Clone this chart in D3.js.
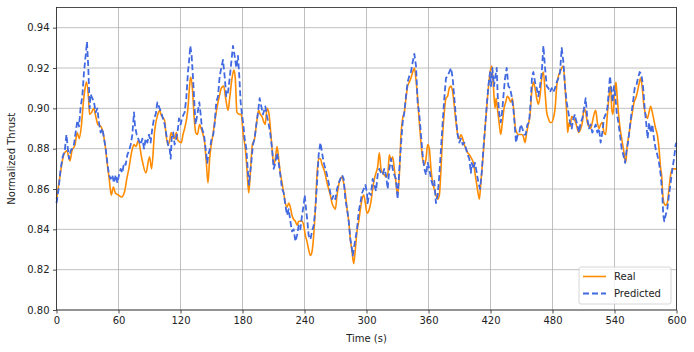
<!DOCTYPE html>
<html>
<head>
<meta charset="utf-8">
<script src="https://cdn.jsdelivr.net/npm/d3@7"></script>
<style>
  html, body { margin: 0; padding: 0; background: #fff; }
  svg { display: block; font-family: "DejaVu Sans", sans-serif; }
</style>
</head>
<body>
<svg id="chart" width="694" height="352"></svg>
<script>
// ---- data ----
const xTicks = [0, 60, 120, 180, 240, 300, 360, 420, 480, 540, 600];
const yTicks = [0.80, 0.82, 0.84, 0.86, 0.88, 0.90, 0.92, 0.94];
const seriesNames = ["Real", "Predicted"];

const realTime = [0,3,5,7,10,13,15,18,20,22,24,26,28,29,31,32,34,36,38,40,43,45,47,49,51,53,55,57,60,63,66,68,70,73,75,77,79,83,86.5,90,92,95,98,100,
 101,104.6,106,108,109.5,111,112.7,114.3,116,117.6,120.8,122.4,124,127.2,128.8,129.8,131.5,133,134.7,136.3,138.5,140,141.8,143.4,145,146.6,148.2,149.8,151.4,153,154.6,156.3,158,159.5,161.8,163.7,166,167.6,169.8,171.7,173,174.6,177.2,178.8,180.5,182.7,184.3,186,187.6,189.5,191.7,193.7,195.6,197.2,198.8,
 200.8,202,203.7,205.4,207,208.6,210.2,211.8,213.4,215,216.6,218.3,219.9,221.5,223.1,224.7,226.3,227.9,229.5,231.2,232.8,234.4,236,237.6,239.2,240.8,242.4,244,245.7,247.3,248.9,250.5,252.1,253.7,255.4,257,258.6,260.2,261.8,263.4,265,266.6,268.3,269.9,271.5,273.1,274.7,276.3,277.9,279.5,281.2,282.8,284.4,286,287.6,289.2,290.8,292.5,294.1,295.7,297.3,298.9,
 300.5,302.7,304.4,306,307.6,309.2,310.8,312.4,314,315.6,317.2,318.9,320.5,322.1,323.7,325.3,326.9,328.5,330.1,331.8,333.4,335,336.6,338.2,339.8,341.4,343,344.7,346.3,347.9,349.5,351.1,352.7,354.3,356,357.6,359.2,360.8,362.4,364,365.6,367.2,368.9,370.5,372.1,373.7,375.3,376.9,378.5,380.1,381.8,383.4,385,386.6,388.2,389.8,391.4,393.1,394.7,396.3,397.9,399.5,
 401.8,403.4,405,406.7,408.3,409.2,410.5,411.8,413.1,414.7,416.3,417.9,419.6,421.2,422.8,424.4,425.4,426.7,428.3,429.9,431.5,433.1,434.7,436.3,437.9,439.6,441.2,442.8,444.1,445.4,447,448.6,450.2,451.8,453.4,455,456.6,458.3,459.9,461.5,463.1,464.7,466.3,467.9,469.6,471.2,472.8,474.4,476,477.6,479.2,480.8,482.5,484.1,485.7,487.3,488.9,490.5,492.1,493.7,494.7,496,497,498.6,500.2,
 502.4,504,505.6,507.3,508.9,510.5,512.1,513.7,515.3,516.9,518.5,520.2,521.8,523.4,525,526.6,528.2,529.8,531.4,533.1,534.7,536.3,537.3,538.5,540.2,541.4,542.7,544.3,546,547.6,549.2,550.8,552.4,554,555.6,557.3,558.9,560.5,562.1,563.7,565.3,566.9,568.5,570.2,571.8,573.4,575,576.6,578.2,579.8,581.4,583.1,584.7,585.6,586.6,587.9,589.5,591.1,592.7,594.3,596,597.6,600];
const realValues = [.855,.865,.872,.877,.879,.874,.879,.882,.888,.885,.891,.903,.911,.913,.905,.897,.898,.900,.896,.892,.891,.888,.882,.873,.865,.857,.861,.858,.857,.856,.859,.865,.870,.879,.882,.881,.884,.874,.868,.876,.870,.889,.897,.899,
 .897,.894,.887,.882,.884,.888,.886,.885,.888,.884,.883,.887,.890,.900,.911,.9155,.910,.897,.888,.887,.892,.890,.887,.883,.873,.863,.875,.882,.887,.893,.898,.903,.907,.910,.911,.905,.899,.905,.9147,.919,.915,.898,.897,.897,.888,.880,.870,.858,.868,.882,.885,.893,.899,.897,.896,
 .893,.892,.900,.898,.890,.880,.872,.875,.881,.875,.868,.863,.858,.853,.851,.853,.851,.847,.845,.844,.842,.844,.844,.844,.842,.837,.834,.830,.827,.829,.837,.850,.867,.875,.875,.872,.870,.867,.863,.860,.857,.853,.851,.850,.857,.862,.865,.866,.863,.858,.850,.844,.835,.829,.823,.830,.839,.844,.850,.855,.857,.853,
 .848,.850,.854,.860,.865,.868,.871,.878,.870,.868,.867,.866,.867,.877,.874,.876,.870,.863,.857,.867,.887,.895,.898,.905,.911,.913,.915,.918,.920,.914,.905,.893,.883,.875,.872,.875,.882,.880,.870,.863,.860,.857,.855,.857,.870,.887,.898,.905,.906,.910,.911,.908,.901,.893,.887,.885,.887,.885,.882,.880,.878,.877,
 .875,.873,.868,.862,.857,.855,.862,.870,.878,.890,.900,.910,.918,.921,.911,.900,.905,.900,.893,.887,.893,.900,.903,.906,.905,.903,.905,.897,.890,.888,.887,.887,.887,.886,.883,.888,.892,.897,.908,.913,.910,.905,.902,.906,.915,.918,.908,.898,.895,.893,.893,.895,.900,.911,.916,.918,.920,.921,.911,.898,.888,.893,.891,.896,.895,
 .893,.890,.888,.890,.893,.900,.898,.893,.891,.890,.893,.897,.899,.893,.890,.892,.893,.888,.887,.897,.906,.911,.900,.897,.908,.913,.905,.895,.888,.883,.878,.873,.882,.887,.893,.898,.903,.905,.908,.912,.915,.910,.901,.897,.895,.898,.901,.898,.894,.890,.887,.880,.870,.867,.858,.853,.852,.853,.860,.867,.870,.870,.870];

const predTime = [0,2,4,6,8,9.6,11,12.1,13.7,15.3,16.9,18.5,20.2,21.8,23.4,25,26.6,28.2,29.5,30.8,32.1,33,34.7,36.3,37.9,39.5,41.1,42.7,44.4,46,47.6,49.2,50.8,52.4,54,55.6,57.3,58.9,60.5,62.1,63.7,65.3,66.9,68.6,70.2,71.8,73.4,75,76,77.6,79.8,81.5,83.1,84.7,86.3,87.9,89.5,91.1,92.7,94.4,96,97.6,
 99.8,101.4,103,104.7,106.3,107.9,109.5,110.5,111.7,113,114.3,115.9,117.6,118.5,120.1,121.4,123,124,125.6,127.2,128.2,129.5,130.8,132.1,133.7,134.6,136.3,138.2,139.5,140.8,142.7,144.3,145.9,146.9,148.5,150.1,151.7,153,154.6,156.3,157.9,159.5,161.1,162.7,164.3,166,167.6,169.2,170.8,172.4,174,175.6,176.9,178.2,179.5,180.8,182.1,183.7,185.3,186.3,187.2,188.5,190.1,191.7,193.4,195,196.6,198.2,199.8,
 202.1,203.7,205.4,207,208.6,210.2,211.8,213.4,215,216.6,218.3,219.9,221.5,223.1,224.7,226.3,227.9,229.5,231.2,232.8,234.4,236,237.6,239.2,240.2,241.5,242.8,244,245.7,247.3,248.9,250.5,252.1,253.7,255.4,257,258.6,260.2,261.8,263.4,265,266.6,268.3,269.9,271.5,273.1,274.7,276.3,277.9,279.5,281.2,282.8,284.4,286,286.7,287.6,289.2,290.8,292.5,294.1,295.7,297.3,298.9,300.5,
 301.1,302.7,304.3,306,307.6,309.2,310.8,312.4,314,315.6,317.2,318.9,320.5,322.1,323.7,325.3,326.9,328.5,330.1,331.8,333.4,335,336.6,338.2,339.8,341.4,343,344.7,346.3,347.9,349.5,351.1,352.7,354.3,356,357.6,359.2,360.8,362.4,364,365.6,367.2,368.9,370.5,372.1,373.7,375.3,376.9,378.5,380.1,381.8,383.4,385,386.6,388.2,389.8,391.4,393.1,394.7,396.3,397.9,399.5,401,
 401.8,403.4,405,406.7,408.3,409.9,411.5,413.1,414.7,416.3,417.9,419.6,420.5,421.8,423.4,424.7,426,427,428.6,429.9,431.2,432.5,434.1,435.7,437.3,438.9,440.5,442.1,443.4,444.7,446.3,447.9,449.2,450.8,452.5,454.1,455.7,457.3,458.9,460.2,461.5,463.1,464.7,466.3,467.9,469.6,471.2,472.8,474.4,476,477.6,479.2,480.8,482.5,484.1,485.7,487.3,488.9,490.5,492.1,493.7,495.4,497,498.6,500.2,
 501.8,502.4,504,505.6,507.3,508.9,510.5,512.1,513.7,515.3,516.9,518.5,520.2,521.8,523.4,525,526.6,528.2,529.8,531.4,533.1,534.7,535.6,536.9,538.2,539.5,540.8,542.1,543.7,545.3,546.9,548.5,550.2,551.4,553.1,554.7,556.3,557.9,559.5,561.1,562.7,564.4,566,567.6,569.2,570.8,572.1,573.4,575,576.6,578.2,579.8,581.4,583.1,584.7,586.3,587.2,588.2,589.5,591.1,592.7,594.3,596,597.6,599.2,600];
const predValues = [.853,.860,.870,.876,.879,.887,.880,.875,.879,.880,.882,.888,.894,.891,.901,.906,.918,.926,.933,.920,.900,.907,.905,.903,.898,.900,.893,.888,.890,.885,.880,.873,.867,.865,.867,.863,.867,.863,.867,.870,.868,.873,.872,.877,.879,.882,.887,.898,.891,.887,.884,.882,.885,.880,.885,.883,.887,.883,.890,.895,.897,.903,
 .900,.898,.895,.892,.887,.882,.880,.875,.887,.888,.882,.885,.890,.895,.892,.895,.897,.898,.905,.918,.923,.931,.926,.915,.900,.892,.897,.903,.897,.890,.887,.880,.873,.877,.880,.885,.887,.892,.903,.906,.916,.920,.924,.916,.906,.908,.915,.923,.931,.926,.920,.926,.916,.903,.897,.892,.885,.880,.868,.862,.867,.873,.882,.885,.892,.898,.905,.901,.897,
 .901,.896,.892,.887,.880,.870,.873,.878,.873,.867,.860,.858,.852,.847,.850,.844,.839,.840,.834,.837,.842,.840,.847,.852,.857,.850,.844,.837,.835,.839,.842,.850,.863,.877,.883,.878,.873,.870,.867,.863,.858,.855,.857,.855,.860,.863,.865,.867,.865,.855,.850,.844,.835,.830,.827,.830,.835,.840,.849,.853,.858,.860,.862,.858,
 .853,.858,.857,.865,.862,.859,.867,.870,.868,.867,.870,.867,.860,.870,.875,.870,.867,.865,.855,.870,.882,.893,.898,.906,.913,.916,.918,.923,.927,.921,.903,.897,.887,.877,.870,.867,.873,.870,.865,.862,.864,.853,.857,.867,.880,.893,.905,.915,.916,.918,.920,.915,.905,.895,.887,.883,.885,.882,.883,.880,.877,.875,.868,
 .873,.870,.873,.868,.863,.860,.868,.880,.890,.901,.911,.918,.911,.920,.911,.916,.920,.906,.897,.893,.898,.906,.915,.920,.911,.910,.906,.900,.892,.883,.887,.888,.892,.890,.887,.887,.892,.893,.903,.916,.918,.913,.910,.906,.911,.918,.931,.920,.911,.910,.908,.910,.908,.910,.913,.915,.918,.930,.923,.911,.903,.898,.893,.890,.895,
 .897,.895,.892,.888,.893,.895,.900,.905,.895,.890,.892,.888,.890,.892,.888,.890,.883,.888,.895,.897,.900,.910,.916,.910,.903,.911,.906,.898,.893,.887,.880,.877,.873,.878,.883,.890,.897,.903,.910,.911,.915,.918,.917,.911,.900,.892,.885,.893,.888,.892,.885,.880,.877,.873,.867,.857,.847,.844,.847,.850,.857,.863,.870,.875,.882,.883];

// ---- layout ----
const W = 694, H = 352;
const margin = { left: 56.5, right: 694 - 676.5, top: 7.5, bottom: 352 - 310 };
const svg = d3.select("#chart");

const x = d3.scaleLinear().domain([0, 600]).range([margin.left, W - margin.right]);
const y = d3.scaleLinear().domain([0.80, 0.95]).range([H - margin.bottom, margin.top]);

// grid
const g = svg.append("g");
g.selectAll("line.vg").data(xTicks).enter().append("line")
  .attr("x1", d => x(d)).attr("x2", d => x(d))
  .attr("y1", y(0.80)).attr("y2", y(0.95))
  .attr("stroke", "#b0b0b0").attr("stroke-width", 0.8);
g.selectAll("line.hg").data(yTicks).enter().append("line")
  .attr("x1", x(0)).attr("x2", x(600))
  .attr("y1", d => y(d)).attr("y2", d => y(d))
  .attr("stroke", "#b0b0b0").attr("stroke-width", 0.8);

// lines
const realData = realTime.map((t, i) => [t, realValues[i]]);
const predData = predTime.map((t, i) => [t, predValues[i]]);

const lineReal = d3.line().x(d => x(d[0])).y(d => y(d[1])).curve(d3.curveMonotoneX);
const linePred = d3.line().x(d => x(d[0])).y(d => y(d[1])).curve(d3.curveLinear);

svg.append("path").datum(realData).attr("d", lineReal)
  .attr("fill", "none").attr("stroke", "#ff8c00").attr("stroke-width", 1.6)
  .attr("stroke-linejoin", "round");
svg.append("path").datum(predData).attr("d", linePred)
  .attr("fill", "none").attr("stroke", "#4169e1").attr("stroke-width", 1.8)
  .attr("stroke-dasharray", "6,3").attr("stroke-linejoin", "round");

// axes
const xAxis = d3.axisBottom(x).tickValues(xTicks).tickFormat(d3.format("d")).tickSizeOuter(0).tickSize(3.5).tickPadding(3.5);
const yAxis = d3.axisLeft(y).tickValues(yTicks).tickFormat(d3.format(".2f")).tickSizeOuter(0).tickSize(3.5).tickPadding(3.5);

const gx = svg.append("g").attr("transform", `translate(0,${y(0.80)})`).call(xAxis);
const gy = svg.append("g").attr("transform", `translate(${x(0)},0)`).call(yAxis);
[gx, gy].forEach(a => {
  a.select(".domain").remove();
  a.selectAll("text").attr("font-size", 10).attr("fill", "#222").attr("font-family", "DejaVu Sans, sans-serif");
  a.selectAll("line").attr("stroke", "#222").attr("stroke-width", 0.8);
});

// frame
svg.append("rect")
  .attr("x", x(0)).attr("y", y(0.95))
  .attr("width", x(600) - x(0)).attr("height", y(0.80) - y(0.95))
  .attr("fill", "none").attr("stroke", "#222").attr("stroke-width", 0.8);

// labels
svg.append("text").attr("x", (x(0) + x(600)) / 2).attr("y", 342)
  .attr("text-anchor", "middle").attr("font-size", 10).attr("fill", "#222")
  .text("Time (s)");
svg.append("text")
  .attr("transform", `translate(15,${(y(0.80) + y(0.95)) / 2}) rotate(-90)`)
  .attr("text-anchor", "middle").attr("font-size", 10).attr("fill", "#222")
  .text("Normalized Thrust");

// legend
const lg = svg.append("g").attr("transform", "translate(579,267)");
lg.append("rect").attr("width", 92).attr("height", 37).attr("rx", 2)
  .attr("fill", "#fff").attr("fill-opacity", 0.8).attr("stroke", "#ccc").attr("stroke-width", 0.8);
const legStyles = [
  { color: "#ff8c00", dash: null, w: 1.6 },
  { color: "#4169e1", dash: "6,3", w: 1.8 }
];
seriesNames.forEach((name, i) => {
  const yy = 9.5 + i * 17;
  lg.append("line").attr("x1", 4).attr("x2", 27).attr("y1", yy).attr("y2", yy)
    .attr("stroke", legStyles[i].color).attr("stroke-width", legStyles[i].w)
    .attr("stroke-dasharray", legStyles[i].dash);
  lg.append("text").attr("x", 35).attr("y", yy + 3.5)
    .attr("font-size", 10).attr("fill", "#222").text(name);
});
</script>
</body>
</html>
